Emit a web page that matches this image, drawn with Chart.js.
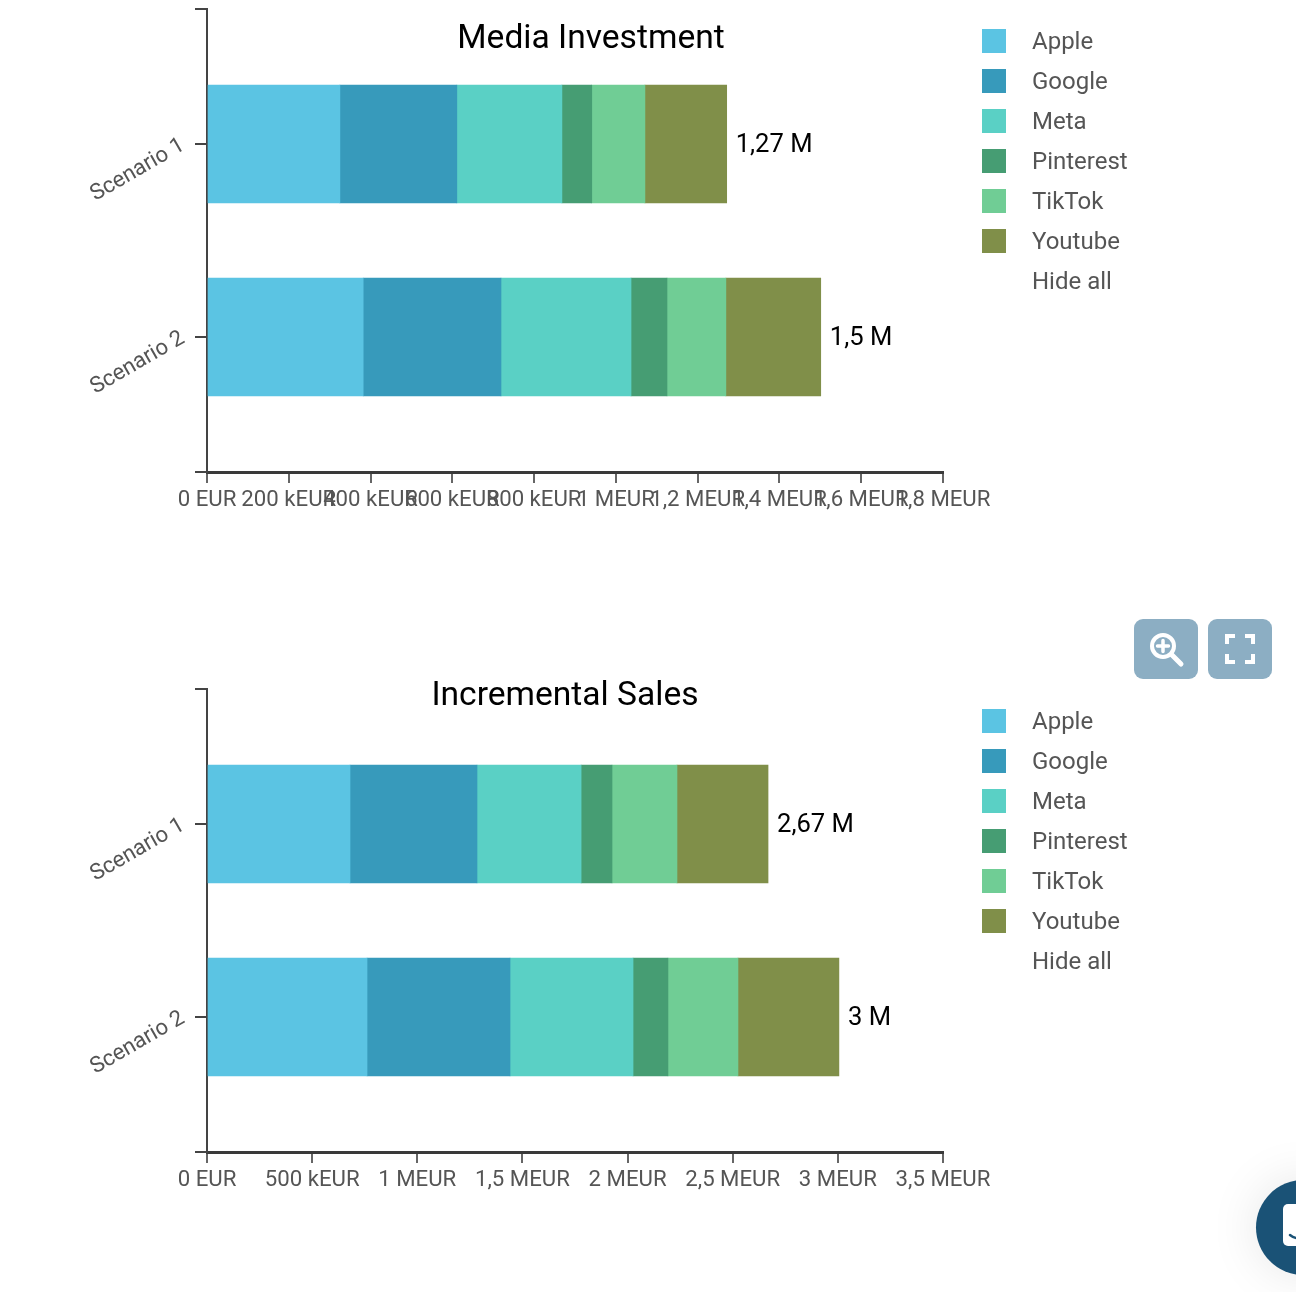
<!DOCTYPE html>
<html lang="en">
<head>
    <meta charset="UTF-8">
    <title>Media Investment and Incremental Sales</title>
    <style>
        html, body { margin: 0; padding: 0; background: #fff; }
        body { position: relative; width: 1296px; height: 1292px; overflow: hidden; font-family: Roboto, sans-serif; }
        canvas { position: absolute; left: 0; }
        .chart-title { position: absolute; transform: translateX(-50%); font-size: 33.6px; line-height: 38px; color: #000; white-space: nowrap; }
        .legend { position: absolute; left: 982px; }
        .legend-row { position: relative; height: 40px; width: 250px; }
        .legend-box { position: absolute; left: 0; top: 8px; width: 24px; height: 24px; }
        .legend-text { position: absolute; left: 50px; top: 0; line-height: 40px; font-size: 24px; color: #555; white-space: nowrap; }
        .btn { position: absolute; top: 619px; width: 64px; height: 60px; border-radius: 9px; background: #8caec3; }
        .btn svg { position: absolute; left: 0; top: 0; }
        .chat { position: absolute; left: 1256px; top: 1180px; width: 95px; height: 95px; border-radius: 50%; background: #1a5276; box-shadow: 0 0 50px rgba(0,0,0,0.1); }
        .chat svg { position: absolute; left: 27px; top: 24px; }
    </style>
</head>
<body>
    <canvas id="mediaChart" width="1000" height="560" style="top:0"></canvas>
    <canvas id="salesChart" width="1000" height="560" style="top:680px"></canvas>

    <div class="chart-title" style="left:591px;top:18px">Media Investment</div>
    <div class="chart-title" style="left:565px;top:675px">Incremental Sales</div>
    <div class="legend" id="mediaLegend" style="top:21px"></div>
    <div class="legend" id="salesLegend" style="top:701px"></div>

    <div class="btn" style="left:1134px">
        <svg width="64" height="60" fill="none" stroke="#fff" stroke-linecap="round">
            <circle cx="29" cy="27" r="11" stroke-width="4"/>
            <path d="M23.5 27h11M29 21.5v11" stroke-width="3.5"/>
            <path d="M38 36l9 9" stroke-width="5"/>
        </svg>
    </div>
    <div class="btn" style="left:1208px">
        <svg width="64" height="60" fill="none" stroke="#fff" stroke-width="4">
            <path d="M19 25v-8h8M37 17h8v8M45 35v8h-8M27 43h-8v-8"/>
        </svg>
    </div>
    <div class="chat">
        <svg width="40" height="42">
            <rect width="40" height="42" rx="5" fill="#fff"/>
            <path d="M7 31q6 5 14 2" fill="none" stroke="#1a5276" stroke-width="2.5" stroke-linecap="round"/>
        </svg>
    </div>

    <script src="https://cdn.jsdelivr.net/npm/chart.js"></script>
    <script>
        const channels = ['Apple', 'Google', 'Meta', 'Pinterest', 'TikTok', 'Youtube'];
        const channelColors = ['#5bc4e3', '#379abb', '#5ad0c5', '#469d73', '#70cd95', '#808f49'];
        const scenarios = ['Scenario 1', 'Scenario 2'];

        // values in EUR, one entry per scenario
        const mediaApple = [325000, 382000];
        const mediaGoogle = [286000, 337000];
        const mediaMeta = [257000, 318000];
        const mediaPinterest = [73000, 88000];
        const mediaTiktok = [130000, 144000];
        const mediaYoutube = [200000, 232000];
        const mediaTotals = ['1,27 M', '1,5 M'];
        const mediaTickValues = [0, 200000, 400000, 600000, 800000, 1000000, 1200000, 1400000, 1600000, 1800000];
        const mediaTickLabels = ['0 EUR', '200 kEUR', '400 kEUR', '600 kEUR', '800 kEUR', '1 MEUR', '1,2 MEUR', '1,4 MEUR', '1,6 MEUR', '1,8 MEUR'];

        const salesApple = [680000, 761000];
        const salesGoogle = [604000, 680000];
        const salesMeta = [495000, 585000];
        const salesPinterest = [147000, 166000];
        const salesTiktok = [309000, 333000];
        const salesYoutube = [433000, 480000];
        const salesTotals = ['2,67 M', '3 M'];
        const salesTickValues = [0, 500000, 1000000, 1500000, 2000000, 2500000, 3000000, 3500000];
        const salesTickLabels = ['0 EUR', '500 kEUR', '1 MEUR', '1,5 MEUR', '2 MEUR', '2,5 MEUR', '3 MEUR', '3,5 MEUR'];

        // y axis has extra outer ticks, the scenarios do not fill equal bands
        const yTickValues = [-0.7, 0, 1, 1.7];

        const totalLabels = {
            id: 'totalLabels',
            afterDatasetsDraw(chart, args, opts) {
                const ctx = chart.ctx;
                const x = chart.scales.x;
                const y = chart.scales.y;
                ctx.save();
                ctx.font = '25.6px Roboto';
                ctx.fillStyle = '#000';
                ctx.textBaseline = 'middle';
                ctx.textAlign = 'left';
                opts.labels.forEach((label, i) => {
                    let sum = 0;
                    chart.data.datasets.forEach(ds => { sum += ds.data[i].x; });
                    ctx.fillText(label, x.getPixelForValue(sum) + 9, y.getPixelForValue(i) + 2);
                });
                ctx.restore();
            }
        };

        function drawChart(canvasId, series, totals, tickValues, tickLabels) {
            return new Chart(document.getElementById(canvasId), {
                type: 'bar',
                data: {
                    datasets: channels.map((name, c) => ({
                        label: name,
                        backgroundColor: channelColors[c],
                        barThickness: 118,
                        data: series[c].map((v, i) => ({ x: v, y: i }))
                    }))
                },
                options: {
                    indexAxis: 'y',
                    responsive: false,
                    animation: false,
                    layout: { padding: { top: 9, right: 57, left: 0, bottom: 0 } },
                    plugins: {
                        legend: { display: false },
                        tooltip: { enabled: false },
                        totalLabels: { labels: totals }
                    },
                    scales: {
                        x: {
                            type: 'linear',
                            stacked: true,
                            min: tickValues[0],
                            max: tickValues[tickValues.length - 1],
                            afterBuildTicks: scale => { scale.ticks = tickValues.map(v => ({ value: v })); },
                            afterFit: scale => { scale.height = 88; },
                            border: { color: '#3a3a3a', width: 3 },
                            grid: { drawOnChartArea: false, color: '#666', lineWidth: 2, tickLength: 11 },
                            ticks: {
                                autoSkip: false,
                                maxRotation: 0,
                                padding: 4,
                                color: '#555',
                                font: { family: 'Roboto', size: 22.2 },
                                callback: (value, index) => tickLabels[index]
                            }
                        },
                        y: {
                            type: 'linear',
                            stacked: true,
                            reverse: true,
                            offset: false,
                            min: yTickValues[0],
                            max: yTickValues[yTickValues.length - 1],
                            afterBuildTicks: scale => { scale.ticks = yTickValues.map(v => ({ value: v })); },
                            afterFit: scale => {
                                scale.width = 207;
                                // rotated labels must not push the axis ends inward
                                scale.paddingTop = 0;
                                scale.paddingBottom = 0;
                            },
                            border: { color: '#444', width: 2 },
                            grid: { offset: false, drawOnChartArea: false, color: '#444', lineWidth: 2, tickLength: 12 },
                            ticks: {
                                autoSkip: false,
                                minRotation: 30,
                                maxRotation: 30,
                                padding: 12,
                                color: '#555',
                                font: { family: 'Roboto', size: 22.2 },
                                callback: value => scenarios[value] || ''
                            }
                        }
                    }
                },
                plugins: [totalLabels]
            });
        }

        function buildLegend(id) {
            const el = document.getElementById(id);
            channels.concat('Hide all').forEach((name, i) => {
                const row = document.createElement('div');
                row.className = 'legend-row';
                if (channelColors[i]) {
                    const box = document.createElement('div');
                    box.className = 'legend-box';
                    box.style.background = channelColors[i];
                    row.appendChild(box);
                }
                const text = document.createElement('div');
                text.className = 'legend-text';
                text.textContent = name;
                row.appendChild(text);
                el.appendChild(row);
            });
        }

        drawChart('mediaChart', [mediaApple, mediaGoogle, mediaMeta, mediaPinterest, mediaTiktok, mediaYoutube],
            mediaTotals, mediaTickValues, mediaTickLabels);
        drawChart('salesChart', [salesApple, salesGoogle, salesMeta, salesPinterest, salesTiktok, salesYoutube],
            salesTotals, salesTickValues, salesTickLabels);
        buildLegend('mediaLegend');
        buildLegend('salesLegend');
    </script>
</body>
</html>
